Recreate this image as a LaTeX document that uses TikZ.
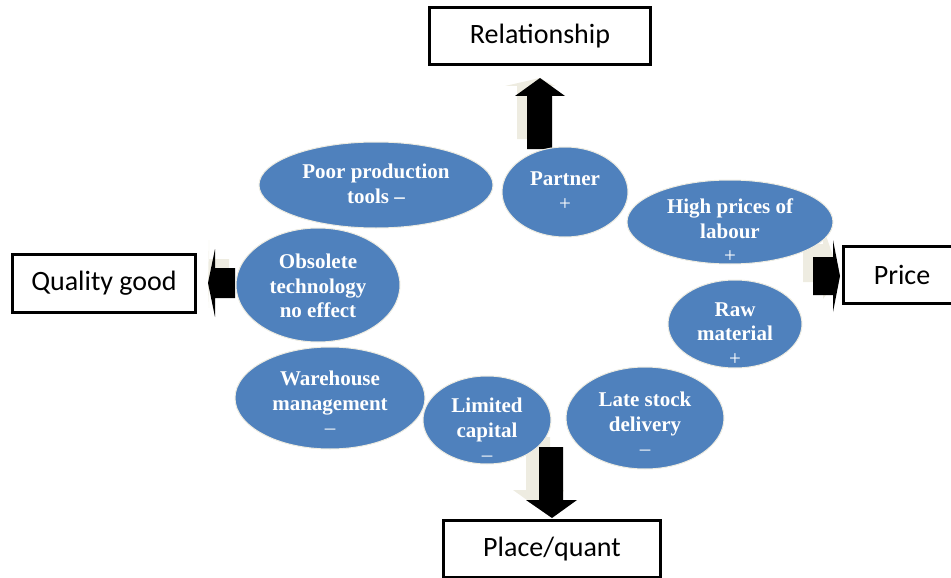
\documentclass[tikz,border=0pt]{standalone}
\usepackage{fontspec}
\setmainfont{Liberation Serif}
\newfontfamily\boxfont{Carlito}
\usetikzlibrary{shapes.geometric}
\definecolor{blobblue}{HTML}{4F81BD}
\definecolor{shadowtan}{HTML}{EEECE1}

\begin{document}
\begin{tikzpicture}[x=1pt,y=-1pt,
  blob/.style={ellipse, fill=blobblue, draw=shadowtan, line width=1pt, inner sep=0pt},
  blobtext/.style={text=white, font=\fontsize{21}{24.5}\selectfont\bfseries, align=center, inner sep=0pt},
  labelbox/.style={rectangle, draw=black, line width=3pt, fill=white, inner sep=0pt,
    font=\boxfont\fontsize{28}{32}\selectfont},
  blockarrow/.style={fill=black},
  arrowshadow/.style={fill=shadowtan}]

% canvas
\path[use as bounding box] (0,0) rectangle (951,578);

% anchor points of the four block arrows
\coordinate (upA) at (540,78);
\coordinate (downA) at (552,518);
\coordinate (leftA) at (208,283);
\coordinate (rightA) at (840,276);

% block arrow shadows
\fill[arrowshadow, shift={(-10,-10)}] (527,149) -- (527,96) -- (515,96) -- (upA) -- (565,96) -- (552,96) -- (552,149) -- cycle;
\fill[arrowshadow, shift={(-13,-10)}] (539,447) -- (539,500) -- (526,500) -- (downA) -- (577,500) -- (563,500) -- (563,447) -- cycle;
\fill[arrowshadow, shift={(-6,-9)}] (235,268) -- (215,268) -- (215,249) -- (leftA) -- (215,317) -- (215,298) -- (235,298) -- cycle;
\fill[arrowshadow, shift={(-10,-13)}] (813,257) -- (833,257) -- (833,240) -- (rightA) -- (833,312) -- (833,295) -- (813,295) -- cycle;

% block arrows
\fill[blockarrow] (527,149) -- (527,96) -- (515,96) -- (upA) -- (565,96) -- (552,96) -- (552,149) -- cycle;
\fill[blockarrow] (539,447) -- (539,500) -- (526,500) -- (downA) -- (577,500) -- (563,500) -- (563,447) -- cycle;
\fill[blockarrow] (235,268) -- (215,268) -- (215,249) -- (leftA) -- (215,317) -- (215,298) -- (235,298) -- cycle;
\fill[blockarrow] (813,257) -- (833,257) -- (833,240) -- (rightA) -- (833,312) -- (833,295) -- (813,295) -- cycle;

% factor ellipses
\node[blob, minimum width=234, minimum height=86]  (e1) at (376,185) {};
\node[blob, minimum width=126, minimum height=90]  (e2) at (565,192) {};
\node[blob, minimum width=206, minimum height=84]  (e3) at (730,222) {};
\node[blob, minimum width=134, minimum height=88]  (e4) at (735,324) {};
\node[blob, minimum width=158, minimum height=102] (e5) at (645,418) {};
\node[blob, minimum width=128, minimum height=88]  (e6) at (487,420) {};
\node[blob, minimum width=190, minimum height=102] (e7) at (330,398) {};
\node[blob, minimum width=164, minimum height=114] (e8) at (318,285) {};

% factor texts
\node[blobtext] (t1) at (376,184) {Poor production\\tools --};
\node[blobtext] (t2) at (565,191) {Partner\\{\mdseries +}};
\node[blobtext] (t3) at (730,231) {High prices of\\labour\\{\mdseries +}};
\node[blobtext] (t4) at (735,334) {Raw\\material\\{\mdseries +}};
\node[blobtext] (t5) at (645,424) {Late stock\\delivery\\{\mdseries --}};
\node[blobtext] (t6) at (487,430) {Limited\\capital\\{\mdseries --}};
\node[blobtext] (t7) at (330,403) {Warehouse\\management\\{\mdseries --}};
\node[blobtext] (t8) at (318,286) {Obsolete\\technology\\no effect};

% outcome boxes
\node[labelbox, minimum width=221, minimum height=57] (rel) at (540,36) {Relationship};
\node[labelbox, minimum width=183, minimum height=58] (qual) at (104,283.5) {Quality good};
\node[labelbox, minimum width=117, minimum height=57] (price) at (902,275) {Price};
\node[labelbox, minimum width=217, minimum height=57] (place) at (552,549) {Place/quant};
\end{tikzpicture}
\end{document}
